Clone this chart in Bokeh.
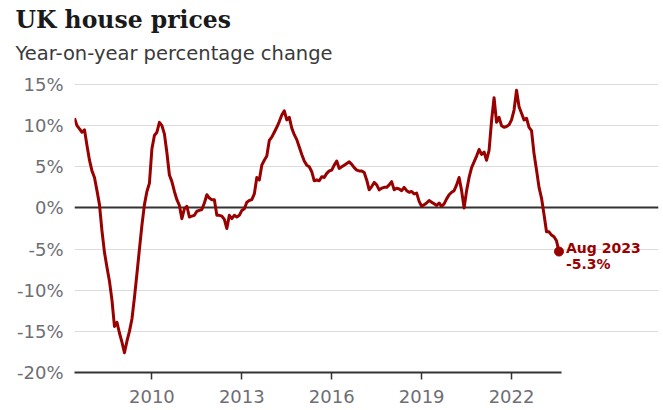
from bokeh.plotting import figure
from bokeh.models import Range1d, FixedTicker, PrintfTickFormatter, Grid, Label, Title
from bokeh.embed import file_html
from bokeh.resources import INLINE

# ---- data: UK house prices, year-on-year % change, monthly from Jun 2007 ----
start_year = 2007
start_month = 6
v2007 = [10.9, 10.0, 9.6, 9.2, 9.5, 7.6, 5.8]
v2008 = [4.5, 3.7, 2.1, 0.4, -2.8, -5.4, -7.2, -8.9, -11.2, -14.4, -13.9, -15.2]
v2009 = [-16.3, -17.6, -16.2, -15.0, -13.5, -10.9, -8.0, -5.0, -2.1, 0.4, 2.0, 3.0]
v2010 = [7.2, 8.8, 9.2, 10.4, 10.0, 9.0, 6.7, 4.0, 3.2, 2.0, 1.0, 0.3]
v2011 = [-1.3, -0.1, 0.2, -1.1, -1.0, -0.9, -0.4, -0.3, -0.2, 0.6, 1.6, 1.2]
v2012 = [1.0, 1.0, -0.9, -0.9, -1.0, -1.4, -2.5, -0.9, -1.3, -0.9, -1.1, -0.9]
v2013 = [-0.3, -0.1, 0.7, 0.9, 1.0, 1.7, 3.7, 3.4, 5.2, 5.8, 6.3, 8.2]
v2014 = [8.6, 9.2, 9.8, 10.5, 11.3, 11.8, 10.7, 11.0, 9.7, 8.9, 8.3, 7.4]
v2015 = [6.5, 5.7, 5.2, 5.0, 4.4, 3.3, 3.4, 3.3, 3.8, 3.7, 4.2, 4.5]
v2016 = [4.6, 5.2, 5.7, 4.8, 5.0, 5.2, 5.4, 5.6, 5.3, 4.9, 4.6, 4.5]
v2017 = [4.5, 4.3, 3.4, 2.2, 2.6, 3.1, 2.8, 2.2, 2.4, 2.5, 2.5, 2.8]
v2018 = [3.2, 2.2, 2.4, 2.3, 2.1, 2.5, 2.1, 1.9, 2.0, 1.7, 1.8, 0.8]
v2019 = [0.2, 0.4, 0.6, 0.9, 0.7, 0.5, 0.3, 0.6, 0.2, 0.5, 1.1, 1.6]
v2020 = [1.9, 2.1, 2.8, 3.7, 2.1, 0.0, 2.1, 3.7, 4.9, 5.6, 6.3, 7.1]
v2021 = [6.5, 6.8, 5.8, 7.0, 10.6, 13.4, 10.4, 11.0, 10.0, 9.8, 9.9, 10.1]
v2022 = [10.7, 11.9, 14.3, 12.3, 11.5, 10.7, 10.9, 9.8, 9.4, 6.6, 4.6, 2.5]
v2023 = [1.2, -0.8, -2.9, -2.9, -3.3, -3.5, -4.0, -5.3]

x_ticks = [2010, 2013, 2016, 2019, 2022]
y_ticks = [-20, -15, -10, -5, 0, 5, 10, 15]
month_names = ["Jan", "Feb", "Mar", "Apr", "May", "Jun",
               "Jul", "Aug", "Sep", "Oct", "Nov", "Dec"]

values = (v2007 + v2008 + v2009 + v2010 + v2011 + v2012 + v2013 + v2014 +
          v2015 + v2016 + v2017 + v2018 + v2019 + v2020 + v2021 + v2022 + v2023)
months = [start_year + (start_month - 1 + i) / 12 for i in range(len(values))]

last_idx = start_month - 1 + len(values) - 1
last_year = start_year + last_idx // 12
last_mon = month_names[last_idx % 12]

RED = "#990000"
GREY = "#6e6e73"
DARK = "#333333"

# layout (pixels)
W, H = 663, 410
LEFT, RIGHT, BOTTOM = 74, 5, 38
GRID_TOP = 84                         # pixel row of the 15% gridline
FRAME_TOP = 71                        # frame starts a little above it
GRID_BOTTOM = H - BOTTOM              # pixel row of the -20% axis
px_per_pct = (GRID_BOTTOM - GRID_TOP) / (y_ticks[-1] - y_ticks[0])
y_end = y_ticks[-1] + (GRID_TOP - FRAME_TOP) / px_per_pct

data_px = 484.5                       # width used by the data span
span = months[-1] - months[0]
px_per_year = data_px / span
x_end = months[0] + (W - LEFT - RIGHT) / px_per_year
grid_end = months[-1] + 2.0 / px_per_year

p = figure(width=W, height=H, output_backend="svg", toolbar_location=None,
           title=None,
           x_range=Range1d(months[0], x_end), y_range=Range1d(y_ticks[0], y_end),
           min_border_left=LEFT, min_border_right=RIGHT, min_border_top=FRAME_TOP,
           min_border_bottom=BOTTOM)
p.outline_line_color = None
p.background_fill_color = "white"
p.border_fill_color = "white"

# y axis
p.yaxis.ticker = FixedTicker(ticks=y_ticks)
p.yaxis.formatter = PrintfTickFormatter(format="%d%%")
p.yaxis.axis_line_color = None
p.yaxis.major_tick_line_color = None
p.yaxis.minor_tick_line_color = None
p.yaxis.major_label_standoff = 5
p.yaxis.major_label_text_font = "DejaVu Sans"
p.yaxis.major_label_text_font_size = "18px"
p.yaxis.major_label_text_color = GREY

# x axis
p.xaxis.ticker = FixedTicker(ticks=x_ticks)
p.xaxis.formatter = PrintfTickFormatter(format="%d")
p.xaxis.bounds = (months[0], grid_end)
p.xaxis.axis_line_color = DARK
p.xaxis.axis_line_width = 2
p.xaxis.major_tick_line_color = DARK
p.xaxis.major_tick_line_width = 1.5
p.xaxis.major_tick_out = 7
p.xaxis.major_tick_in = 0
p.xaxis.minor_tick_line_color = None
p.xaxis.major_label_standoff = 10
p.xaxis.major_label_text_font = "DejaVu Sans"
p.xaxis.major_label_text_font_size = "18px"
p.xaxis.major_label_text_color = GREY

p.xgrid.grid_line_color = None
p.ygrid.ticker = FixedTicker(ticks=y_ticks)
p.ygrid.bounds = (months[0], grid_end)
p.ygrid.grid_line_color = "#dcdcdc"
p.ygrid.grid_line_width = 1

zero_line = Grid(dimension=1, ticker=FixedTicker(ticks=[0]),
                 bounds=(months[0], grid_end),
                 grid_line_color=DARK, grid_line_width=2)
p.add_layout(zero_line)

p.line(months, values, line_color=RED, line_width=3, line_join="round")
p.scatter([months[-1]], [values[-1]], size=9, color=RED)

p.add_layout(Label(x=months[-1], y=values[-1], x_offset=7, y_offset=4,
                   text=f"{last_mon} {last_year}", text_color=RED,
                   text_font="DejaVu Sans", text_font_style="bold",
                   text_font_size="14px", text_baseline="alphabetic"))
p.add_layout(Label(x=months[-1], y=values[-1], x_offset=7, y_offset=-12,
                   text=f"{values[-1]:.1f}%", text_color=RED,
                   text_font="DejaVu Sans", text_font_style="bold",
                   text_font_size="14px", text_baseline="alphabetic"))

# subtitle first (closest to the frame), then title above it
p.add_layout(Title(text="Year-on-year percentage change", align="left",
                   offset=-59, standoff=13, text_color="#3a3a3a",
                   text_font="DejaVu Sans", text_font_style="normal",
                   text_font_size="19.5px"), "above")
p.add_layout(Title(text="UK house prices", align="left", offset=-59,
                   standoff=0, text_color="#1a1a1a",
                   text_font="DejaVu Serif", text_font_style="bold",
                   text_font_size="23.5px"), "above")

open("out.html", "w").write(file_html(p, INLINE))
